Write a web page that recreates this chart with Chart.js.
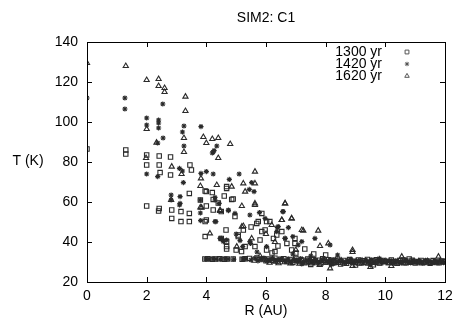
<!DOCTYPE html>
<html>
<head>
<meta charset="utf-8">
<script src="https://cdn.jsdelivr.net/npm/chart.js@4/dist/chart.umd.min.js"></script>
<style>
html,body{margin:0;padding:0;background:#fff;}
canvas{display:block;}
</style>
</head>
<body>
<canvas id="c" width="467" height="327"></canvas>
<script>
const chartTitle = 'SIM2: C1';
const xTitle = 'R (AU)';
const yTitle = 'T (K)';
const seriesLabels = ['1300 yr', '1420 yr', '1620 yr'];
const xTickValues = [0, 2, 4, 6, 8, 10, 12];
const yTickValues = [20, 40, 60, 80, 100, 120, 140];

// 1300 yr (squares) scattered points
const r1300 = [0,1.3,1.3,2.0,2.0,2.0,2.42,2.42,2.45,2.42,2.4,2.8,2.8,2.84,2.84,3.15,3.15,3.45,3.5,3.43,3.43,3.43,3.8,4.0,4.2,4.0,4.0,3.96,4.23,4.5,4.68,4.85,4.66,4.68,4.68,4.5,5.07,5.0,5.3,5.24,5.86,6.13,5.69,5.97,6.25,5.8,6.02,6.53,6.97,6.7,4.4,4.6,5.5,6.4,7.3,7.0,7.6,8.0,6.2,8.5,9.0,7.5,9.6,10.8,
  3.96,4.68,4.9,4.23,3.96,5.07,5.18,5.74,6.02,5.86,6.36,6.97,6.86,6.3,5.63,4.68,4.96];
const t1300 = [86.5,86,84,83.5,78.5,58,83,78.5,74.7,56.8,55.5,82.5,73.5,56,51.8,55.2,50.2,78.5,76,64.3,54.3,50.2,61,65.2,64.7,58,51,42.7,61.3,55.2,67.7,61.3,46,40.2,36.5,41.8,42.7,36,37.7,46,54.3,50.2,49.3,46,41.8,41,36,45.2,41.8,39.3,59.5,63,47.5,38,36.5,34.5,34,33.5,34.5,29,28.5,28.8,28.6,31.5,
  65.5,66.8,61.5,56,50.2,43.5,35.2,50.2,50.2,45.2,43.5,39.3,36,35.2,37.7,37.7,52.7];
// 1300 yr points along the ~30 K floor
const r1300floor = [3.95,4.05,4.2,4.3,4.45,4.6,4.7,4.9,5.2,5.3,
  5.45,5.6,5.7,5.8,5.9,6.0,6.1,6.2,6.3,6.4,6.5,
  6.6,6.7,6.8,6.9,7.0,7.1,7.2,7.3,7.4,7.5,7.6,7.7,7.8,7.9,8.0,8.1,8.2,8.3,8.4,8.5,8.6,8.7,8.8,8.9,9.0,9.1,9.2,9.3,9.4,9.5,9.6,9.7,9.8,9.9,10.0,10.1,10.2,10.3,10.4,10.5,10.6,10.7,10.8,10.9,11.0,11.1,11.2,11.3,11.4,11.5,11.6,11.7,11.8,11.9,12.0];
const t1300floor = [31.5,31.6,31.4,31.5,31.6,31.4,31.5,31.5,31.4,31.6,
  31.8,31.0,32.0,31.2,31.6,30.6,31.5,30.9,31.9,30.5,31.4,
  31.6,30.2,31.3,29.8,31.8,30.5,31.0,29.6,31.5,30.3,
  31.2,29.7,30.9,31.6,30.0,31.1,29.5,30.7,31.4,30.1,
  30.8,29.4,31.2,30.4,29.9,31.0,29.6,30.6,31.3,29.8,
  30.5,31.1,29.5,30.8,30.2,29.7,31.0,30.3,29.4,30.7,
  31.0,29.6,30.4,30.9,29.5,30.2,30.8,29.8,30.5,29.4,
  30.7,30.0,29.6,30.5,30.2];

// 1420 yr (asterisks) scattered points
const r1420 = [0,1.27,1.27,2.54,2.0,2.0,2.4,2.4,2.4,3.25,3.2,3.82,2.55,3.25,2.37,4.35,4.26,4.2,2.0,2.37,3.23,2.82,2.82,3.12,3.12,3.82,4.0,4.23,4.77,5.1,5.52,5.44,5.6,3.8,3.81,4.32,4.29,4.43,4.74,4.96,4.46,4.57,5.13,5.22,5.48,5.78,5.97,6.56,6.38,6.64,6.9,6.02,6.75,7.2,7.64,8.15,6.36,3.1,3.2,3.1,3.8,5.0,5.7,6.9,7.5,8.4,9.5,8.2,7.2,9.8,4.23,
  4.29,4.74,5.46,6.58,6.41,4.51,4.68,5.46,6.64,7.08,4.29];
const t1420 = [112,112,106.5,109,102,98.5,101,99.5,97,98,95,97.7,92,88,89.5,88,85.7,84.5,74,72.7,69.7,63.5,61,62.7,59.3,74.3,75.2,74,71.3,74,69.7,66.3,65.2,61,50.7,50.2,62.3,59.3,55.7,54.3,41.8,40.2,40.7,37.7,39.3,54.7,51.8,55.2,47.3,41.8,42.7,37.7,47.2,40.2,41.8,38.5,45.2,76.8,75.5,58.5,54.5,44,35,34,33,33.5,28.5,28.7,29,31.8,85,
  61,56,53.5,55.2,47.7,41.8,41,40.2,41.8,38.5,50.2];
const r1420floor = [3.98,4.08,4.22,4.33,4.47,4.62,4.72,4.92,5.22,5.32,
  5.5,5.63,5.73,5.83,5.93,6.03,6.13,6.23,6.33,6.43,6.53,
  6.65,6.75,6.85,6.95,7.05,7.15,7.25,7.35,7.45,7.55,
  7.65,7.75,7.85,7.95,8.05,8.15,8.25,8.35,8.45,8.55,
  8.65,8.75,8.85,8.95,9.05,9.15,9.25,9.35,9.45,9.55,
  9.65,9.75,9.85,9.95,10.05,10.15,10.25,10.35,10.45,10.55,
  10.65,10.75,10.85,10.95,11.05,11.15,11.25,11.35,11.45,11.55,
  11.65,11.75,11.85,11.95];
const t1420floor = [31.5,31.4,31.6,31.5,31.4,31.6,31.5,31.4,31.5,31.6,
  31.0,31.9,30.6,31.5,32.0,30.5,31.2,31.8,30.7,31.3,31.6,
  30.4,31.5,29.9,31.2,30.6,31.7,29.8,30.9,31.4,30.2,
  31.1,29.7,30.7,31.5,30.0,30.8,31.2,29.6,31.0,30.4,
  29.8,30.9,31.3,29.7,30.5,31.0,29.5,30.8,30.3,31.1,
  29.6,30.6,31.0,29.9,30.4,30.8,29.5,30.6,30.1,29.7,
  30.9,30.2,29.6,30.7,30.0,30.5,29.5,30.8,30.3,29.8,
  30.4,30.0,30.6,29.7];

// 1620 yr (triangles) scattered points
const r1620 = [0,1.3,2.0,2.4,2.4,2.6,2.6,3.3,3.3,2.0,3.25,3.9,4.2,4.4,4.8,4.0,3.25,4.4,2.33,1.98,2.84,3.17,3.82,3.8,4.35,5.24,5.63,5.63,4.85,2.82,3.8,4.46,5.19,5.63,5.24,6.53,6.64,6.86,4.12,5.02,5.52,7.25,7.75,8.09,7.81,8.9,8.9,8.15,8.9,11.78,10.55,6.0,6.3,7.0,5.8,9.5,10.2,7.8,
  3.84,4.46,5.63,6.64,6.86,5.19,7.2,6.53,6.19,5.3];
const t1620 = [129.5,128,121,121.5,118,117,115,112.7,105.5,96.5,92,92.5,91.5,92,89,89.5,85,82,89.7,82,77.7,74,71.8,68,68.5,69.3,75.2,69.3,67.7,61,57.3,56,58,59.3,48,51,59.3,51.8,44.3,37.7,41.8,45.7,45.7,39.3,38,36,35,26.8,28,32.7,32.7,44,40,36,33,27.5,28,28.5,
  57.2,55.5,58.5,59.3,51.8,47.7,46,51,48.5,65.2];
const r1620floor = [6.02,6.12,6.22,6.32,6.42,6.52,6.62,6.72,6.82,6.92,
  7.02,7.12,7.22,7.32,7.42,7.52,7.62,7.72,7.82,7.92,
  8.02,8.12,8.22,8.32,8.42,8.52,8.62,8.72,8.82,8.92,
  9.02,9.12,9.22,9.32,9.42,9.52,9.62,9.72,9.82,9.92,
  10.02,10.12,10.22,10.32,10.42,10.52,10.62,10.72,10.82,10.92,
  11.02,11.12,11.22,11.32,11.42,11.52,11.62,11.72,11.82,11.92];
const t1620floor = [30.9,29.6,31.3,30.2,29.4,31.0,29.9,30.6,29.3,30.8,
  30.4,29.2,30.9,29.7,30.2,29.3,30.7,29.9,29.2,30.5,
  29.6,30.6,29.1,30.3,29.5,30.7,29.2,30.0,30.5,29.4,
  30.3,29.2,30.6,29.6,29.1,30.4,29.5,30.2,29.3,30.0,
  30.4,29.4,29.9,29.2,30.3,29.7,29.3,30.4,29.5,30.0,
  29.6,30.3,29.3,29.8,30.4,29.5,30.0,29.4,30.2,29.7];

function pts(rs, ts) { return rs.map((r, i) => ({x: r, y: ts[i]})); }

const FONT = "'Liberation Sans', Arial, Helvetica, sans-serif";
const INK = '#2a2a2a';
const styles = [
  {pointStyle: 'rect', radius: 3.1},
  {pointStyle: 'star', radius: 2.6},
  {pointStyle: 'triangle', radius: 3.0}
];

const datasets = [
  {label: seriesLabels[0], data: pts(r1300, t1300).concat(pts(r1300floor, t1300floor))},
  {label: seriesLabels[1], data: pts(r1420, t1420).concat(pts(r1420floor, t1420floor))},
  {label: seriesLabels[2], data: pts(r1620, t1620).concat(pts(r1620floor, t1620floor))}
].map((d, i) => Object.assign(d, {
  pointStyle: styles[i].pointStyle,
  pointRadius: styles[i].radius,
  pointBorderWidth: 1.1,
  pointBorderColor: INK,
  pointBackgroundColor: 'rgba(0,0,0,0)',
  showLine: false
}));

const decor = {
  id: 'decor',
  afterDraw(chart) {
    const ctx = chart.ctx;
    const a = chart.chartArea;
    const xs = chart.scales.x, ys = chart.scales.y;
    ctx.save();
    ctx.strokeStyle = '#000';
    ctx.lineWidth = 1;
    ctx.strokeRect(Math.round(a.left) + 0.5, Math.round(a.top) + 0.5, Math.round(a.right - a.left), Math.round(a.bottom - a.top));
    const tl = 5;
    ctx.beginPath();
    xTickValues.forEach(v => {
      const px = Math.round(xs.getPixelForValue(v)) + 0.5;
      ctx.moveTo(px, a.bottom); ctx.lineTo(px, a.bottom - tl);
      ctx.moveTo(px, a.top); ctx.lineTo(px, a.top + tl);
    });
    yTickValues.forEach(v => {
      const py = Math.round(ys.getPixelForValue(v)) + 0.5;
      ctx.moveTo(a.left, py); ctx.lineTo(a.left + tl, py);
      ctx.moveTo(a.right, py); ctx.lineTo(a.right - tl, py);
    });
    ctx.stroke();

    ctx.fillStyle = '#000';
    ctx.font = '14px ' + FONT;
    ctx.textBaseline = 'middle';
    ctx.textAlign = 'center';
    ctx.fillText(chartTitle, (a.left + a.right) / 2, 18);
    ctx.fillText(xTitle, (a.left + a.right) / 2, 311);
    ctx.fillText(yTitle, 28, 161);

    // key (text then marker, gnuplot style)
    ctx.textAlign = 'right';
    const keyY = [52, 64, 76];
    chart.data.datasets.forEach((ds, i) => {
      ctx.fillStyle = '#000';
      ctx.fillText(ds.label, 382, keyY[i]);
      ctx.strokeStyle = '#555';
      ctx.fillStyle = 'rgba(0,0,0,0)';
      ctx.lineWidth = 1;
      Chart.helpers.drawPoint(ctx, {pointStyle: ds.pointStyle, radius: ds.pointRadius - 0.4, rotation: 0, borderWidth: 1}, 407, keyY[i]);
    });
    ctx.restore();
  }
};

new Chart(document.getElementById('c'), {
  type: 'scatter',
  data: {datasets},
  options: {
    responsive: false,
    devicePixelRatio: 1,
    animation: false,
    layout: {padding: {top: 42, right: 22, left: 0, bottom: 0}},
    plugins: {legend: {display: false}, tooltip: {enabled: false}, title: {display: false}},
    scales: {
      x: {
        type: 'linear', min: 0, max: 12,
        afterFit(s) { s.height = 45; },
        afterBuildTicks(s) { s.ticks = xTickValues.map(v => ({value: v})); },
        grid: {display: false, drawTicks: false},
        border: {display: false},
        ticks: {color: '#000', font: {size: 14, family: FONT}, padding: 6, maxRotation: 0}
      },
      y: {
        type: 'linear', min: 20, max: 140,
        afterFit(s) { s.width = 87; },
        afterBuildTicks(s) { s.ticks = yTickValues.map(v => ({value: v})); },
        grid: {display: false, drawTicks: false},
        border: {display: false},
        ticks: {color: '#000', font: {size: 14, family: FONT}, padding: 9}
      }
    }
  },
  plugins: [decor]
});
</script>
</body>
</html>
